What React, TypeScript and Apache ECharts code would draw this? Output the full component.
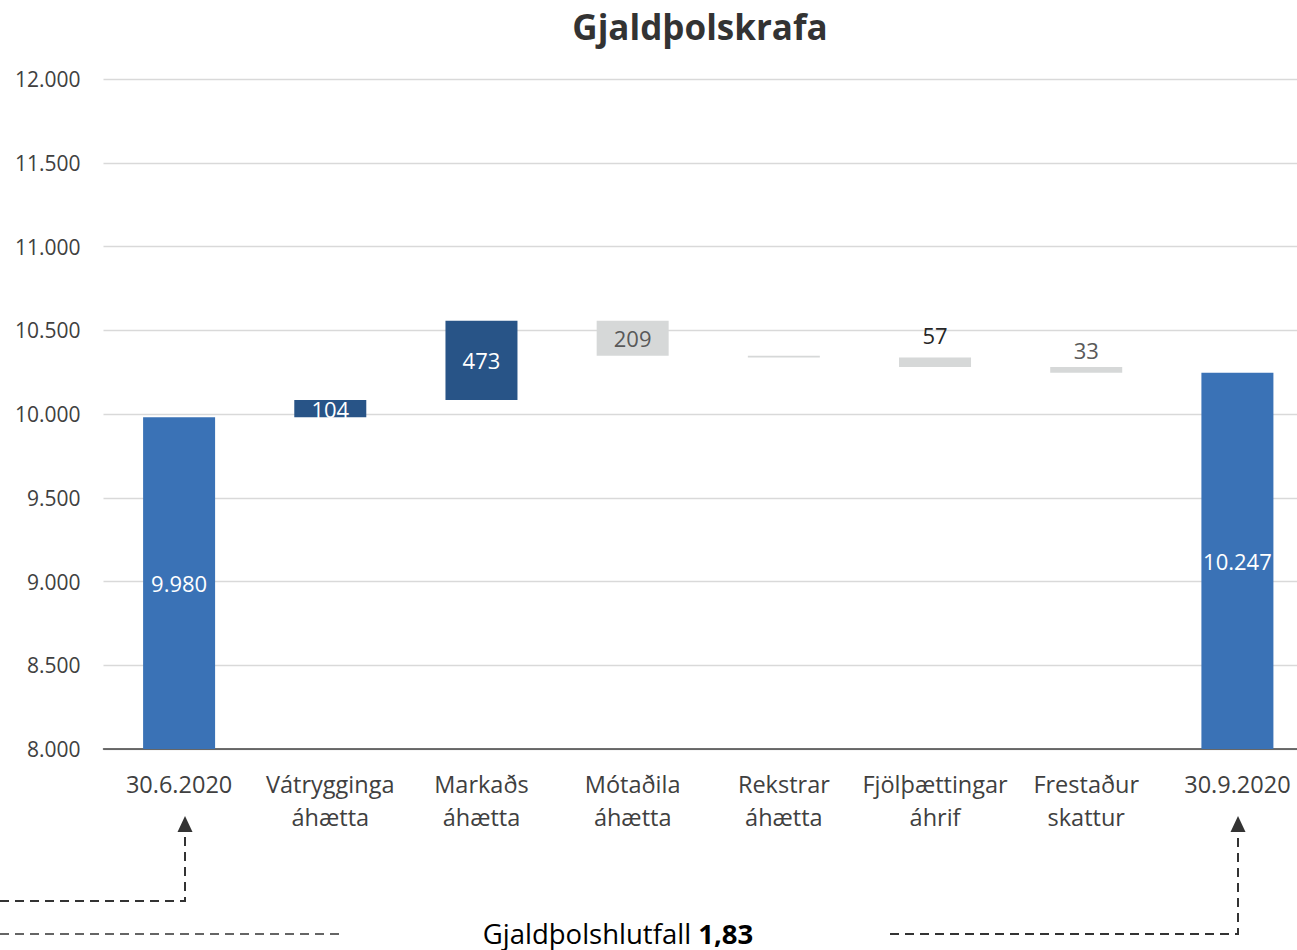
import React, { useEffect, useRef } from "react";
import * as echarts from "echarts";

const categories = [
  "30.6.2020",
  "Vátrygginga\náhætta",
  "Markaðs\náhætta",
  "Mótaðila\náhætta",
  "Rekstrar\náhætta",
  "Fjölþættingar\náhrif",
  "Frestaður\nskattur",
  "30.9.2020",
];
// total = absolute level, otherwise change
const values = [9980, 104, 473, -209, -11, -57, -33, 10247];
const kinds = ["total", "up", "up", "down", "down", "down", "down", "total"];
const showLabel = [true, true, true, true, false, true, true, true];
const yTicks = { min: 8000, max: 12000, interval: 500 };

const FONT = "'Open Sans', sans-serif";
const fmt = (v: number) =>
  Math.round(Math.abs(v)).toString().replace(/\B(?=(\d{3})+(?!\d))/g, ".");

export default function App() {
  const ref = useRef<HTMLDivElement>(null);
  useEffect(() => {
    if (!ref.current) return;
    const chart = echarts.init(ref.current, undefined, { renderer: "svg" });

    const base: any[] = [];
    const totals: any[] = [];
    const ups: any[] = [];
    const downs: any[] = [];
    let level = 0;
    values.forEach((v, i) => {
      const k = kinds[i];
      if (k === "total") {
        level = v;
        base.push("-");
        totals.push({
          value: v,
          label: {
            show: showLabel[i],
            position: "inside",
            color: "#ffffff",
            formatter: fmt(v),
          },
        });
        ups.push("-");
        downs.push("-");
      } else if (k === "up") {
        base.push(level);
        ups.push({
          value: v,
          label: { show: showLabel[i], position: "inside", color: "#ffffff", formatter: fmt(v) },
        });
        totals.push("-");
        downs.push("-");
        level += v;
      } else {
        const end = level + v;
        base.push(end);
        const big = Math.abs(v) > 100;
        downs.push({
          value: -v,
          label: {
            show: showLabel[i],
            position: big ? "inside" : "top",
            distance: i === 5 ? 12 : 6,
            color: i === 5 ? "#262626" : "#595959",
            formatter: fmt(v),
          },
        });
        totals.push("-");
        ups.push("-");
        level = end;
      }
    });

    chart.setOption({
      animation: false,
      title: {
        text: "Gjaldþolskrafa",
        left: 695,
        textAlign: "center",
        top: 4,
        textStyle: { fontFamily: FONT, fontSize: 35, fontWeight: "bold", color: "#333333" },
      },
      grid: { left: 103.5, right: 0, top: 79, bottom: 201 },
      xAxis: {
        type: "category",
        data: categories,
        axisTick: { show: false },
        axisLine: { lineStyle: { color: "#404040", width: 1.5 } },
        axisLabel: {
          interval: 0,
          margin: 18,
          fontFamily: FONT,
          fontSize: 23.5,
          lineHeight: 33,
          color: "#404040",
        },
      },
      yAxis: {
        type: "value",
        min: yTicks.min,
        max: yTicks.max,
        interval: yTicks.interval,
        axisLine: { show: false },
        axisTick: { show: false },
        splitLine: { lineStyle: { color: "#d9d9d9", width: 1.3 } },
        axisLabel: {
          margin: 23,
          fontFamily: FONT,
          fontSize: 21,
          color: "#404040",
          formatter: (v: number) => fmt(v),
        },
      },
      series: [
        {
          type: "bar",
          stack: "w",
          data: base,
          barWidth: 72,
          itemStyle: { color: "transparent" },
          silent: true,
        },
        {
          type: "bar",
          stack: "w",
          data: totals,
          barWidth: 72,
          itemStyle: { color: "#3a72b6" },
          label: { fontFamily: FONT, fontSize: 22 },
        },
        {
          type: "bar",
          stack: "w",
          data: ups,
          barWidth: 72,
          itemStyle: { color: "#285487" },
          label: { fontFamily: FONT, fontSize: 22 },
        },
        {
          type: "bar",
          stack: "w",
          data: downs,
          barWidth: 72,
          itemStyle: { color: "#d6d8d8" },
          label: { fontFamily: FONT, fontSize: 22 },
        },
      ],
      graphic: [
        {
          type: "polyline",
          shape: { points: [[0, 901], [185, 901], [185, 830]] },
          style: { stroke: "#333333", lineWidth: 2, lineDash: [9, 6], fill: null },
        },
        {
          type: "polygon",
          shape: { points: [[185, 816], [177.5, 832], [192.5, 832]] },
          style: { fill: "#333333" },
        },
        {
          type: "polyline",
          shape: { points: [[0, 934], [345, 934]] },
          style: { stroke: "#333333", lineWidth: 1.5, lineDash: [9, 6], fill: null },
        },
        {
          type: "polyline",
          shape: { points: [[890, 934], [1238, 934], [1238, 830]] },
          style: { stroke: "#333333", lineWidth: 2, lineDash: [9, 6], fill: null },
        },
        {
          type: "polygon",
          shape: { points: [[1238, 816], [1230.5, 832], [1245.5, 832]] },
          style: { fill: "#333333" },
        },
        {
          type: "text",
          x: 618,
          y: 933,
          style: {
            text: "{n|Gjaldþolshlutfall }{b|1,83}",
            align: "center",
            verticalAlign: "middle",
            rich: {
              n: { fontFamily: FONT, fontSize: 27.5, lineHeight: 24, color: "#333333" },
              b: { fontFamily: FONT, fontSize: 27.5, lineHeight: 24, fontWeight: "bold", color: "#333333" },
            },
          },
        },
      ],
    });
    return () => chart.dispose();
  }, []);

  return (
    <div
      style={{
        position: "absolute",
        left: 0,
        top: 0,
        width: 1297,
        height: 950,
        overflow: "hidden",
        background: "#fff",
      }}
    >
      <div ref={ref} style={{ width: 1313, height: 950 }} />
    </div>
  );
}
